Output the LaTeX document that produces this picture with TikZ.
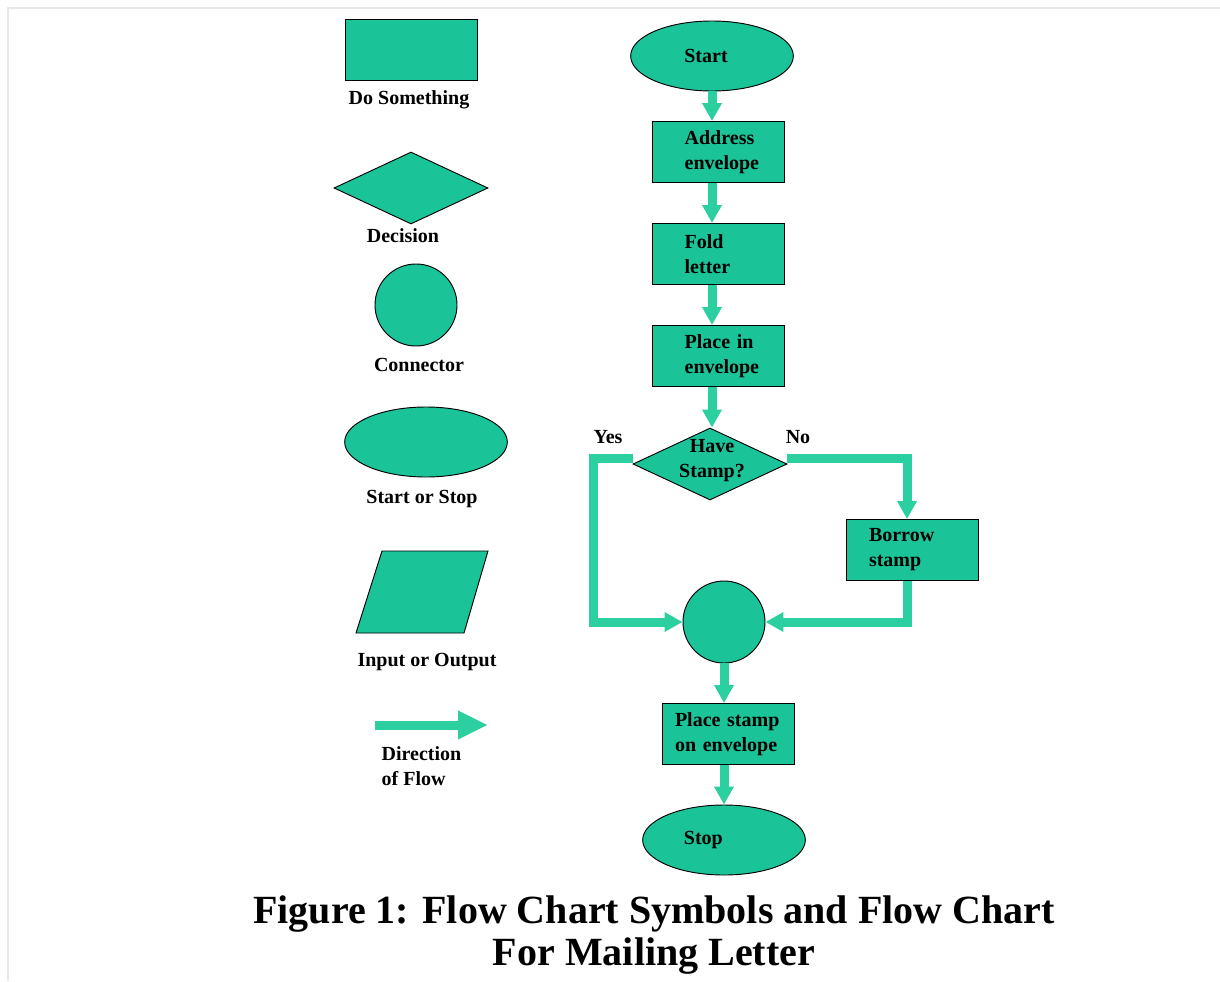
\documentclass[tikz,border=0pt]{standalone}
\usepackage{fontspec}
\setmainfont{Liberation Serif}
\usetikzlibrary{shapes.geometric,arrows.meta,positioning}
\definecolor{chartgreen}{RGB}{26,196,152}
\definecolor{flowgreen}{RGB}{44,208,160}

\begin{document}
\begin{tikzpicture}[x=0.75pt,y=-0.75pt,
                font=\fontsize{15}{18.75}\selectfont\bfseries,
                symb/.style={draw=black,line width=0.7pt,fill=chartgreen,inner sep=0pt},
                box/.style={symb,rectangle,minimum width=99pt,minimum height=45.75pt,align=left},
                term/.style={symb,ellipse,minimum width=122pt,minimum height=52.5pt},
                dia/.style={symb,diamond,minimum width=115.5pt,minimum height=54pt},
                conn/.style={symb,circle,minimum size=61.5pt},
                flow/.style={draw=flowgreen,line width=6.75pt,-{Triangle[width=14pt,length=13.5pt]}},
                capt/.style={font=\fontsize{30}{31.5}\selectfont\bfseries,anchor=base}]
                \useasboundingbox (0,0) rectangle (1220,981);
                \fill[white] (0,0) rectangle (1220,981);
                \draw[gray!18,line width=1pt] (8,981) -- (8,8) -- (1220,8);
                % symbols
                \node[box] (dosth) at (411,50) {};
                \node (dosthl) at (409,100) {Do Something};
                \node[dia] (decsym) at (411,188) {};
                \node (decl) at (403,236) {Decision};
                \node[conn] (consym) at (416,305) {};
                \node (conl) at (419,365) {Connector};
                \node[term] (termsym) at (426,442) {};
                \node (terml) at (422,499) {Start or Stop};
                \draw[symb] (382,551) -- (488,551) -- (464,633) -- (356,633) -- cycle;
                \node (iol) at (427,662) {Input or Output};
                \coordinate (dirA) at (375,725);
                \coordinate (dirB) at (488,725);
                \draw[flow,-{Triangle[width=20pt,length=22.5pt]}] (dirA) -- (dirB);
                \node[align=left,anchor=west] (dirl) at (377,766) {Direction\\of Flow};
                % flow chart
                \coordinate (spine) at (712,0);
                \coordinate (sidex) at (907,0);
                \coordinate (yesx) at (593,0);
                \node[term] (start) at (712,56) {\hspace*{-9pt}Start};
                \node[box,text width=64pt] (addr) at (718,152) {\hspace*{7pt}Address\\\hspace*{7pt}envelope};
                \node[box,text width=64pt] (fold) at (718,254) {\hspace*{7pt}Fold\\\hspace*{7pt}letter};
                \node[box,text width=64pt] (place) at (718,356) {\hspace*{7pt}Place in\\\hspace*{7pt}envelope};
                \node[dia] (stamp) at (710,464) {};
                \node[align=center] (stampt) at (712,461) {Have\\Stamp?};
                \node (yes) at (608,437) {Yes};
                \node (no) at (798,437) {No};
                \node[box,text width=64.5pt] (borrow) at (912,550) {Borrow\\stamp};
                \node[conn] (join) at (724,622) {};
                \node[box,text width=79.5pt] (placest) at (728,734) {Place stamp\\on envelope};
                \node[term] (stop) at (724,840) {\hspace*{-31pt}Stop};
                \draw[flow] (start.south) -- (spine |- addr.north);
                \draw[flow] (spine |- addr.south) -- (spine |- fold.north);
                \draw[flow] (spine |- fold.south) -- (spine |- place.north);
                \draw[flow] (spine |- place.south) -- (spine |- stamp.north);
                \draw[flow] ([yshift=4.5pt]stamp.west) -| (yesx |- join.west) -- (join.west);
                \draw[flow] ([yshift=4.5pt]stamp.east) -| (sidex |- borrow.north);
                \draw[flow] (sidex |- borrow.south) |- (join.east);
                \draw[flow] (join.south) -- (join.south |- placest.north);
                \draw[flow] (join.south |- placest.south) -- (stop.north);
                % caption
                \node[capt] (cap1) at (654,923) {Figure 1: Flow Chart Symbols and Flow Chart};
                \node[capt] (cap2) at (654,965) {For Mailing Letter};
            \end{tikzpicture}
\end{document}
